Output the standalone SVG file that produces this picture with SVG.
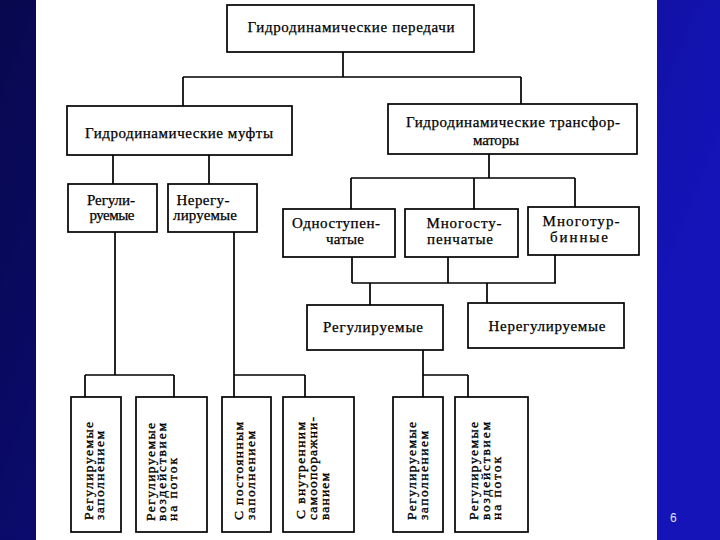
<svg xmlns="http://www.w3.org/2000/svg" width="720" height="540" viewBox="0 0 720 540">
<defs>
<linearGradient id="bg" x1="0" y1="0" x2="1" y2="0.3">
<stop offset="0" stop-color="#08084e"/>
<stop offset="0.5" stop-color="#0c0c80"/>
<stop offset="1" stop-color="#1414b8"/>
</linearGradient>
</defs>
<style>
.box{fill:#ffffff;stroke:#000000;stroke-width:1.7}
.ln{fill:none;stroke:#000000;stroke-width:1.7}
.t{font-family:'Liberation Serif','DejaVu Serif','Times New Roman',serif;font-size:15px;fill:#000000;stroke:#000000;stroke-width:0.25;text-anchor:middle}
.v{font-family:'Liberation Serif','DejaVu Serif','Times New Roman',serif;font-size:13.5px;fill:#000000;stroke:#000000;stroke-width:0.35}
.pg{font-family:'Liberation Sans',Arial,sans-serif;font-size:12px;fill:#e4e4ff}
</style>
<rect x="0" y="0" width="720" height="540" fill="url(#bg)"/>
<rect x="36" y="0" width="621" height="540" fill="#ffffff"/>
<text class="pg" x="670" y="522">6</text>

<g id="connectors">
<path class="ln" d="M343,52 V77 M183,77 H521 M183,77 V106 M521,77 V104"/>
<path class="ln" d="M113,155 V184 M209,155 V184"/>
<path class="ln" d="M115,232 V375 M85,375 H174 M85,375 V397 M174,375 V397"/>
<path class="ln" d="M234,232 V397 M234,375 H305 M305,375 V397"/>
<path class="ln" d="M489,154 V178 M351,178 H575 M351,178 V209 M474,178 V209 M575,178 V207"/>
<path class="ln" d="M352,257 V283 M448,257 V283 M555,255 V283 M352,283 H556"/>
<path class="ln" d="M370,283 V305 M487,283 V303"/>
<path class="ln" d="M423,350 V397 M423,375 H468 M468,375 V397"/>
</g>

<g id="n-peredachi">
<rect class="box" x="227" y="5" width="247" height="47"/>
<text class="t" x="351" y="32" textLength="207">Гидродинамические передачи</text>
</g>
<g id="n-mufty">
<rect class="box" x="67" y="106" width="225" height="49"/>
<text class="t" x="179" y="138" textLength="188">Гидродинамические муфты</text>
</g>
<g id="n-transformatory">
<rect class="box" x="388" y="104" width="249" height="50"/>
<text class="t" x="513" y="127" textLength="214">Гидродинамические трансфор-</text>
<text class="t" x="496" y="145" textLength="46">маторы</text>
</g>
<g id="n-regul-mufty">
<rect class="box" x="68" y="184" width="89" height="48"/>
<text class="t" x="111" y="205" textLength="48">Регули-</text>
<text class="t" x="112" y="220" textLength="45">руемые</text>
</g>
<g id="n-nereg-mufty">
<rect class="box" x="168" y="184" width="89" height="48"/>
<text class="t" x="203" y="205" textLength="53">Нерегу-</text>
<text class="t" x="205" y="220" textLength="64">лируемые</text>
</g>
<g id="n-odnostup">
<rect class="box" x="283" y="209" width="112" height="48"/>
<text class="t" x="336" y="228" textLength="88">Одноступен-</text>
<text class="t" x="345" y="244" textLength="38">чатые</text>
</g>
<g id="n-mnogostup">
<rect class="box" x="405" y="209" width="113" height="48"/>
<text class="t" x="464" y="228" textLength="75">Многосту-</text>
<text class="t" x="460" y="244" textLength="66">пенчатые</text>
</g>
<g id="n-mnogoturb">
<rect class="box" x="528" y="207" width="111" height="48"/>
<text class="t" x="581" y="226" textLength="77">Многотур-</text>
<text class="t" x="579" y="242" textLength="58">бинные</text>
</g>
<g id="n-regul-tr">
<rect class="box" x="307" y="305" width="136" height="45"/>
<text class="t" x="373" y="332" textLength="100">Регулируемые</text>
</g>
<g id="n-nereg-tr">
<rect class="box" x="468" y="303" width="156" height="45"/>
<text class="t" x="547" y="331" textLength="117">Нерегулируемые</text>
</g>

<g id="b1">
<rect class="box" x="71" y="397" width="50" height="135"/>
<text class="v" transform="translate(93,520) rotate(-90)" textLength="98">Регулируемые</text>
<text class="v" transform="translate(104,520) rotate(-90)" textLength="89">заполнением</text>
</g>
<g id="b2">
<rect class="box" x="136" y="397" width="71" height="135"/>
<text class="v" transform="translate(155,521) rotate(-90)" textLength="98">Регулируемые</text>
<text class="v" transform="translate(166,521) rotate(-90)" textLength="98">воздействием</text>
<text class="v" transform="translate(177,521) rotate(-90)" textLength="63">на поток</text>
</g>
<g id="b3">
<rect class="box" x="222" y="397" width="49" height="135"/>
<text class="v" transform="translate(243,520) rotate(-90)" textLength="98">С постоянным</text>
<text class="v" transform="translate(255,520) rotate(-90)" textLength="89">заполнением</text>
</g>
<g id="b4">
<rect class="box" x="283" y="397" width="71" height="135"/>
<text class="v" transform="translate(305,519) rotate(-90)" textLength="97">С внутренним</text>
<text class="v" transform="translate(317,520) rotate(-90)" textLength="103">самоопоражни-</text>
<text class="v" transform="translate(329,520) rotate(-90)" textLength="47">ванием</text>
</g>
<g id="b5">
<rect class="box" x="393" y="397" width="50" height="135"/>
<text class="v" transform="translate(416,520) rotate(-90)" textLength="98">Регулируемые</text>
<text class="v" transform="translate(428,520) rotate(-90)" textLength="89">заполнением</text>
</g>
<g id="b6">
<rect class="box" x="455" y="397" width="73" height="135"/>
<text class="v" transform="translate(478,520) rotate(-90)" textLength="98">Регулируемые</text>
<text class="v" transform="translate(490,520) rotate(-90)" textLength="98">воздействием</text>
<text class="v" transform="translate(501,520) rotate(-90)" textLength="63">на поток</text>
</g>
</svg>
